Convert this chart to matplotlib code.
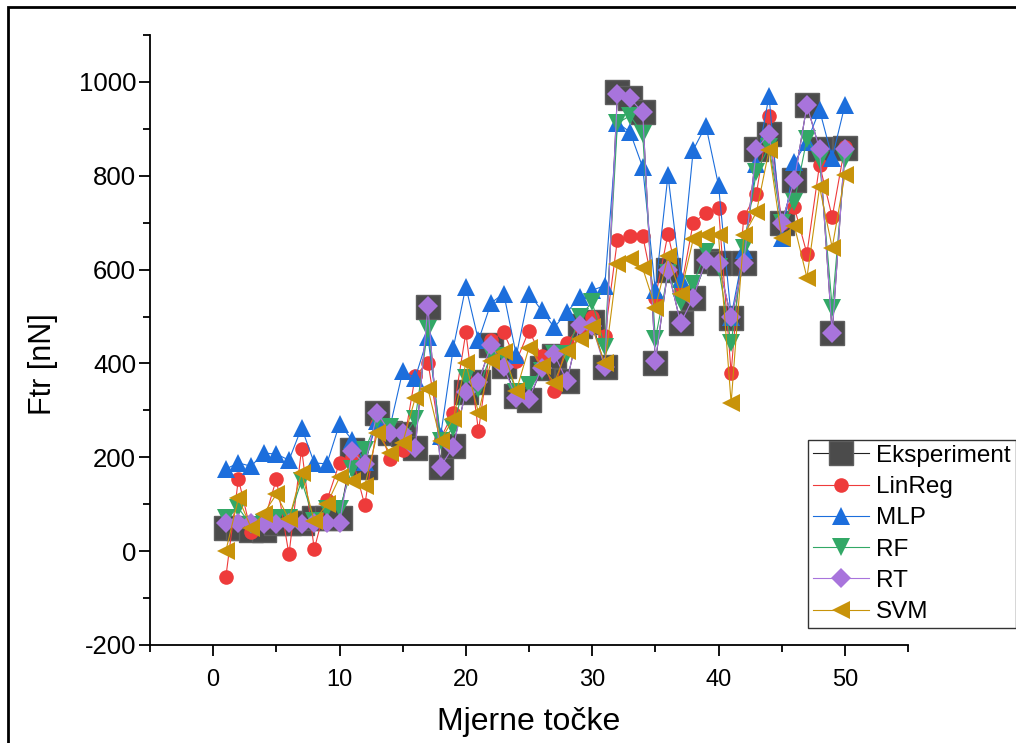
# -*- coding: utf-8 -*-
import matplotlib
matplotlib.use('Agg')
import matplotlib.pyplot as plt
from matplotlib.patches import Rectangle
from matplotlib.ticker import MultipleLocator

plt.rcParams['font.family'] = ['Liberation Sans', 'DejaVu Sans']
plt.rcParams['axes.unicode_minus'] = False

# data
tocke = list(range(1, 51))

eksperiment = [50, 50, 45, 45, 60, 60, 60, 70, 70, 70,
               215, 180, 295, 252, 250, 220, 520, 180, 225, 340,
               360, 440, 395, 330, 322, 390, 415, 362, 480, 488,
               393, 978, 966, 935, 402, 600, 486, 540, 618, 614,
               497, 615, 857, 888, 700, 790, 950, 857, 464, 860]

linreg = [-56, 154, 40, 60, 154, -7, 218, 4, 108, 188,
          200, 98, 272, 197, 215, 374, 402, 240, 295, 466,
          256, 450, 466, 405, 470, 415, 342, 444, 480, 498,
          458, 664, 672, 672, 540, 676, 555, 700, 720, 732,
          380, 712, 762, 928, 700, 733, 634, 824, 712, 862]

mlp = [175, 188, 181, 209, 207, 194, 263, 188, 186, 271,
       237, 190, 278, 265, 383, 370, 456, 245, 432, 564,
       449, 529, 549, 417, 549, 513, 477, 509, 541, 556,
       566, 913, 893, 818, 556, 801, 580, 855, 907, 780,
       500, 641, 825, 970, 667, 829, 872, 940, 838, 950]

rf = [70, 92, 55, 60, 70, 70, 150, 65, 90, 90,
      175, 215, 280, 265, 240, 282, 474, 235, 262, 370,
      345, 420, 415, 340, 355, 385, 420, 420, 500, 530,
      436, 912, 928, 889, 452, 592, 530, 570, 637, 605,
      443, 646, 808, 862, 700, 744, 879, 833, 519, 836]

rt = [60, 60, 60, 58, 58, 60, 58, 60, 60, 60,
      213, 185, 295, 252, 252, 220, 522, 180, 222, 340,
      360, 440, 392, 326, 325, 390, 420, 362, 481, 480,
      392, 975, 965, 935, 405, 600, 486, 540, 620, 615,
      498, 615, 857, 890, 700, 790, 950, 857, 464, 857]

svm = [0, 113, 50, 80, 121, 68, 167, 64, 100, 157,
       149, 139, 252, 209, 231, 327, 346, 235, 282, 400,
       295, 406, 425, 342, 434, 395, 359, 427, 453, 478,
       400, 613, 622, 603, 519, 628, 549, 665, 673, 673,
       316, 673, 722, 855, 668, 694, 583, 776, 647, 801]

fig = plt.figure(figsize=(10.16, 7.43), dpi=100)
ax = fig.add_axes([150/1016, 98/743, 758/1016, 610/743])

ax.plot(tocke, eksperiment, color='#222222', linewidth=0.8, marker='s',
        markersize=17.5, markerfacecolor='#4b4b4b', markeredgecolor='#5e5e5e',
        label='Eksperiment')
ax.plot(tocke, linreg, color='#ee3b3b', linewidth=0.8, marker='o',
        markersize=10.5, markeredgewidth=0, label='LinReg')
ax.plot(tocke, mlp, color='#1c6edc', linewidth=0.8, marker='^',
        markersize=13, markeredgewidth=0, label='MLP')
ax.plot(tocke, rf, color='#32a866', linewidth=0.8, marker='v',
        markersize=13, markeredgewidth=0, label='RF')
ax.plot(tocke, rt, color='#a874dc', linewidth=0.8, marker='D',
        markersize=10, markeredgewidth=0, label='RT')
ax.plot(tocke, svm, color='#c8930a', linewidth=0.8, marker='<',
        markersize=13, markeredgewidth=0, label='SVM')

ax.set_xlim(-5, 55)
ax.set_ylim(-200, 1100)
ax.xaxis.set_major_locator(MultipleLocator(10))
ax.xaxis.set_minor_locator(MultipleLocator(5))
ax.set_yticks([-200, 0, 200, 400, 600, 800, 1000])
ax.yaxis.set_minor_locator(MultipleLocator(100))

for s in ['top', 'right']:
    ax.spines[s].set_visible(False)
for s in ['left', 'bottom']:
    ax.spines[s].set_linewidth(1.3)

ax.tick_params(which='major', direction='out', length=8, width=1.3)
ax.tick_params(which='minor', direction='out', length=5, width=1.3)
ax.tick_params(axis='x', which='major', labelsize=17, pad=9)
ax.tick_params(axis='y', which='major', labelsize=18.5, pad=2)

ax.set_xlabel('Mjerne točke', fontsize=23, labelpad=12)
ax.set_ylabel('Ftr [nN]', fontsize=22)
ax.yaxis.set_label_coords(-0.122, 0.46)

leg = ax.legend(loc='upper left', bbox_to_anchor=(808/1016, 1 - 440/743),
                bbox_transform=fig.transFigure, fontsize=17.5, frameon=True,
                fancybox=False, edgecolor='black', borderpad=0.2,
                labelspacing=0.38, handlelength=2.3, handletextpad=0.3,
                borderaxespad=0)
leg.get_frame().set_linewidth(1.0)

# frame around the figure (cut at right and bottom)
fig.patches.append(Rectangle((8/1016, -0.1), 1.2, 1 - 7/743 + 0.1,
                             transform=fig.transFigure, fill=False,
                             edgecolor='black', linewidth=2))

plt.savefig('out.png', dpi=100)
